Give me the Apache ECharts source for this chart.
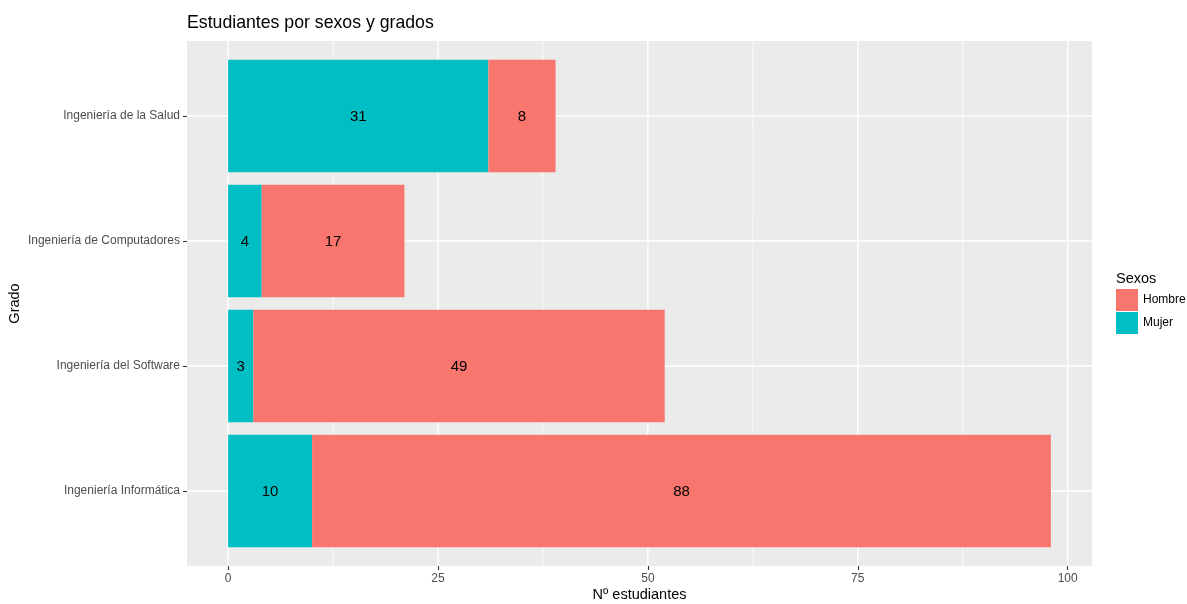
<!DOCTYPE html>
<html>
<head>
<meta charset="utf-8">
<script src="https://cdn.jsdelivr.net/npm/echarts@6/dist/echarts.min.js"></script>
<style>html,body{margin:0;padding:0;background:#fff}#c{width:1187px;height:604px}</style>
</head>
<body>
<div id="c"></div>
<script>
// Categories bottom-to-top (ggplot factor order)
const categories = ['Ingeniería Informática', 'Ingeniería del Software', 'Ingeniería de Computadores', 'Ingeniería de la Salud'];
const mujer = [10, 3, 4, 31];
const hombre = [88, 49, 17, 8];
const xMajorTicks = [0, 25, 50, 75, 100];
const xMinorTicks = [12.5, 37.5, 62.5, 87.5];
const yTicks = [1, 2, 3, 4];

const COL_H = '#F8766D', COL_M = '#00BFC4';

const mujerData = mujer.map((v, i) => [0, v, i + 1, v]);
const hombreData = hombre.map((v, i) => [mujer[i], mujer[i] + v, i + 1, v]);

function barRender(color) {
  return function (params, api) {
    const y = api.value(2);
    const p0 = api.coord([api.value(0), y]);
    const p1 = api.coord([api.value(1), y]);
    const h = api.size([0, 0.9])[1];
    return {
      type: 'group',
      children: [
        { type: 'rect', shape: { x: p0[0], y: p0[1] - h / 2, width: p1[0] - p0[0], height: h }, style: { fill: color } },
        { type: 'text', x: (p0[0] + p1[0]) / 2, y: p0[1] + 1, style: { text: String(api.value(3)), fill: '#000', fontSize: 15, fontFamily: 'Liberation Sans, Arial, sans-serif', align: 'center', verticalAlign: 'middle' } }
      ]
    };
  };
}

const gridData = [];
xMajorTicks.forEach(v => gridData.push(['x', v, 1.4]));
xMinorTicks.forEach(v => gridData.push(['x', v, 0.7]));
yTicks.forEach(v => gridData.push(['y', v, 1.4]));

const chart = echarts.init(document.getElementById('c'), null, { renderer: 'canvas' });
const FONT = 'Liberation Sans, Arial, sans-serif';
chart.setOption({
  animation: false,
  textStyle: { fontFamily: FONT },
  title: [
    { text: 'Estudiantes por sexos y grados', left: 187, top: 14, padding: 0, textStyle: { fontSize: 17.7, fontWeight: 'normal', color: '#000', fontFamily: FONT } },
    { text: 'Sexos', left: 1116, top: 271, padding: 0, textStyle: { fontSize: 14.5, fontWeight: 'normal', color: '#000', fontFamily: FONT } }
  ],
  legend: {
    data: ['Hombre', 'Mujer'],
    orient: 'vertical',
    left: 1116, top: 289, padding: 0,
    icon: 'rect',
    itemWidth: 22, itemHeight: 22, itemGap: 1,
    textStyle: { fontSize: 12, color: '#000', fontFamily: FONT },
    selectedMode: false
  },
  grid: { left: 187, right: 95, top: 41, bottom: 38, show: true, backgroundColor: '#EBEBEB', borderWidth: 0, containLabel: false, outerBoundsMode: 'none' },
  xAxis: {
    type: 'value', min: -4.9, max: 102.9,
    name: 'Nº estudiantes', nameLocation: 'middle', nameGap: 21, nameMoveOverlap: false,
    nameTextStyle: { fontSize: 14.5, color: '#000', fontFamily: FONT, verticalAlign: 'top' },
    axisLine: { show: false, onZero: false },
    axisTick: { show: true, length: 4, customValues: xMajorTicks, lineStyle: { color: '#333', width: 1.1 } },
    axisLabel: { customValues: xMajorTicks, fontSize: 12, color: '#4D4D4D', margin: 7, fontFamily: FONT },
    splitLine: { show: false }
  },
  yAxis: {
    type: 'value', min: 0.4, max: 4.6,
    name: 'Grado', nameLocation: 'middle', nameGap: 165, nameRotate: 90, nameMoveOverlap: false,
    nameTextStyle: { fontSize: 14.5, color: '#000', fontFamily: FONT },
    axisLine: { show: false, onZero: false },
    axisTick: { show: true, length: 4, customValues: yTicks, lineStyle: { color: '#333', width: 1.1 } },
    axisLabel: { customValues: yTicks, fontSize: 12, color: '#4D4D4D', margin: 7, fontFamily: FONT,
      formatter: v => categories[Math.round(v) - 1] || '' },
    splitLine: { show: false }
  },
  series: [
    {
      name: 'grid', type: 'custom', silent: true, z: 1,
      data: gridData.map(d => [d[0] === 'x' ? d[1] : 0, d[0] === 'y' ? d[1] : 0, d[0] === 'x' ? 0 : 1, d[2]]),
      renderItem: function (params, api) {
        const cs = params.coordSys;
        const isY = api.value(2) === 1;
        const w = api.value(3);
        if (isY) {
          const p = api.coord([0, api.value(1)]);
          return { type: 'line', shape: { x1: cs.x, y1: p[1], x2: cs.x + cs.width, y2: p[1] }, style: { stroke: '#FFFFFF', lineWidth: w } };
        } else {
          const p = api.coord([api.value(0), 1]);
          return { type: 'line', shape: { x1: p[0], y1: cs.y, x2: p[0], y2: cs.y + cs.height }, style: { stroke: '#FFFFFF', lineWidth: w } };
        }
      }
    },
    { name: 'Mujer', type: 'custom', z: 2, itemStyle: { color: COL_M }, data: mujerData, renderItem: barRender(COL_M) },
    { name: 'Hombre', type: 'custom', z: 2, itemStyle: { color: COL_H }, data: hombreData, renderItem: barRender(COL_H) }
  ]
});
</script>
</body>
</html>
